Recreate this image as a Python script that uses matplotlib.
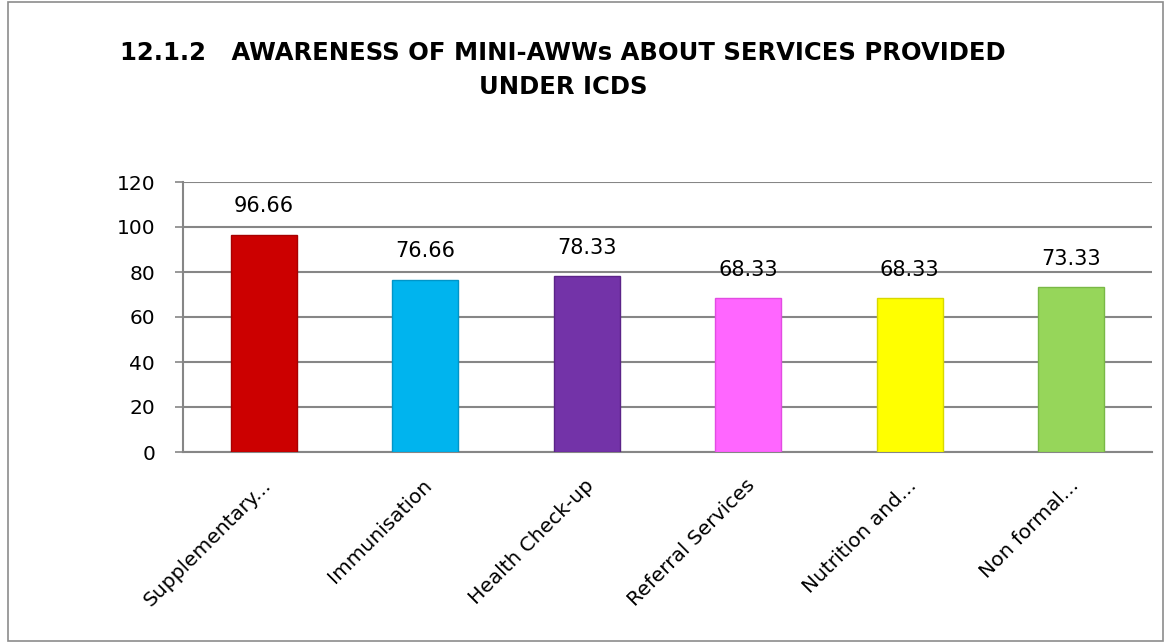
import numpy as np
import matplotlib.pyplot as plt
import matplotlib.transforms as mtransforms
from matplotlib.patches import Rectangle

categories = ['Supplementary...', 'Immunisation', 'Health Check-up',
              'Referral Services', 'Nutrition and...', 'Non formal...']
values = [96.66, 76.66, 78.33, 68.33, 68.33, 73.33]
value_labels = ['96.66', '76.66', '78.33', '68.33', '68.33', '73.33']
colors = ['#CC0000', '#00B4EE', '#7333A8', '#FF66FF', '#FFFF00', '#96D65A']
edges = ['#A80000', '#0095C8', '#5B2388', '#E24CE2', '#D8D800', '#7AB846']
yticks = [0, 20, 40, 60, 80, 100, 120]
title = '12.1.2   AWARENESS OF MINI-AWWs ABOUT SERVICES PROVIDED\nUNDER ICDS'

fig = plt.figure(figsize=(11.66, 6.43), dpi=100)
fig.patches.append(Rectangle((8 / 1166, 1 - 641 / 643), 1155 / 1166, 639 / 643,
                             transform=fig.transFigure, fill=False,
                             edgecolor='#8C8C8C', linewidth=1.2))

ax = fig.add_axes([183 / 1166, 1 - 452 / 643, 969 / 1166, 270 / 643])
x = np.arange(len(categories))
ax.bar(x, values, width=0.41, color=colors, edgecolor=edges, linewidth=1.0, zorder=3)

for xi, v, lab in zip(x, values, value_labels):
    ax.annotate(lab, (xi, v), xytext=(0, 13), textcoords='offset points',
                ha='center', va='bottom', fontsize=15, color='black')

ax.set_ylim(0, 120)
ax.set_xlim(-0.5, len(categories) - 0.5)
ax.set_yticks(yticks)
ax.set_yticklabels([str(t) for t in yticks], fontsize=14.5)
ax.yaxis.grid(True, color='#868686', linewidth=1.5, zorder=0)
ax.set_axisbelow(True)
ax.tick_params(axis='y', length=6, width=1.2, color='#868686', pad=14)
ax.tick_params(axis='x', length=0, pad=6)

ax.set_xticks(x)
ax.set_xticklabels(categories, rotation=45, ha='right', va='center',
                   rotation_mode='anchor', fontsize=14.5)
shift = mtransforms.ScaledTranslation(0.04, -0.22, fig.dpi_scale_trans)
for lbl in ax.get_xticklabels():
    lbl.set_transform(lbl.get_transform() + shift)

for s in ['top', 'right']:
    ax.spines[s].set_visible(False)
for s in ['left', 'bottom']:
    ax.spines[s].set_color('#868686')
    ax.spines[s].set_linewidth(1.5)

fig.text(0.483, 1 - 70 / 643, title, ha='center', va='center', fontsize=17.5,
         fontweight='bold', linespacing=1.5)

fig.savefig('out.png', dpi=100)
